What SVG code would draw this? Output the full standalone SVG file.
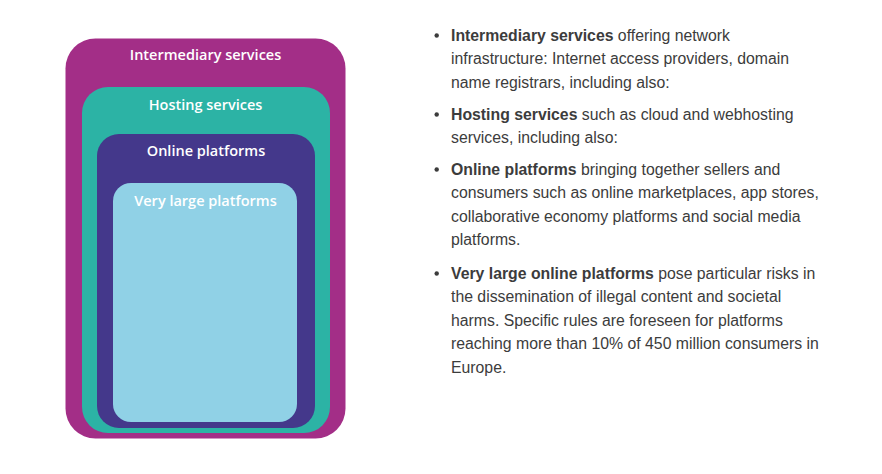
<svg xmlns="http://www.w3.org/2000/svg" width="882" height="474" viewBox="0 0 882 474">
<style>
.lbl{font-family:"Open Sans","Noto Sans",sans-serif;font-weight:600;font-size:14.5px;fill:#ffffff;text-anchor:middle}
.t{font-family:"Liberation Sans",Arial,sans-serif;font-size:15.8px;fill:#3c3c3c}
.b{font-weight:bold}
.dot{fill:#3c3c3c}
</style>
<rect width="882" height="474" fill="#ffffff"/>
<g id="intermediary">
<rect x="65.5" y="38.5" width="280" height="400" rx="30" ry="30" fill="#A32E87"/>
<text class="lbl" x="205.5" y="59.5">Intermediary services</text>
</g>
<g id="hosting">
<rect x="82" y="87" width="248" height="346" rx="26" ry="26" fill="#2CB3A5"/>
<text class="lbl" x="205.5" y="110">Hosting services</text>
</g>
<g id="online">
<rect x="97" y="134" width="218" height="294" rx="22" ry="22" fill="#44388B"/>
<text class="lbl" x="206" y="155.5">Online platforms</text>
</g>
<g id="verylarge">
<rect x="113" y="183" width="184" height="239" rx="18" ry="18" fill="#90D1E6"/>
<text class="lbl" x="205.5" y="206">Very large platforms</text>
</g>
<g id="connectors"></g>
<g id="description">
<circle class="dot" cx="436.7" cy="35.5" r="2.2"/>
<text class="t" x="451" y="40.5"><tspan class="b">Intermediary services</tspan> offering network</text>
<text class="t" x="451" y="64">infrastructure: Internet access providers, domain</text>
<text class="t" x="451" y="87.5">name registrars, including also:</text>
<circle class="dot" cx="436.7" cy="114.5" r="2.2"/>
<text class="t" x="451" y="119.5"><tspan class="b">Hosting services</tspan> such as cloud and webhosting</text>
<text class="t" x="451" y="143">services, including also:</text>
<circle class="dot" cx="436.7" cy="169.5" r="2.2"/>
<text class="t" x="451" y="174.5"><tspan class="b">Online platforms</tspan> bringing together sellers and</text>
<text class="t" x="451" y="198">consumers such as online marketplaces, app stores,</text>
<text class="t" x="451" y="221.5">collaborative economy platforms and social media</text>
<text class="t" x="451" y="245">platforms.</text>
<circle class="dot" cx="436.7" cy="273.5" r="2.2"/>
<text class="t" x="451" y="278.5"><tspan class="b">Very large online platforms</tspan> pose particular risks in</text>
<text class="t" x="451" y="302">the dissemination of illegal content and societal</text>
<text class="t" x="451" y="325.5">harms. Specific rules are foreseen for platforms</text>
<text class="t" x="451" y="349">reaching more than 10% of 450 million consumers in</text>
<text class="t" x="451" y="372.5">Europe.</text>
</g>
</svg>
